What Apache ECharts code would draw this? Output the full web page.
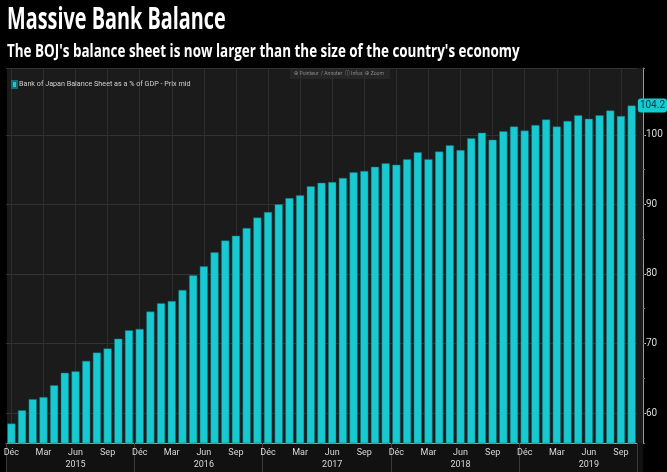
<!DOCTYPE html>
<html><head><meta charset="utf-8">
<script src="https://cdn.jsdelivr.net/npm/echarts@6/dist/echarts.min.js"></script>
<style>html,body{margin:0;padding:0;background:#000;}#c{width:667px;height:472px;}</style>
</head><body><div id="c"></div>
<script>
const titleText = 'Massive Bank Balance';
const subtitleText = "The BOJ's balance sheet is now larger than the size of the country's economy";
const seriesName = 'Bank of Japan Balance Sheet as a % of GDP - Prix mid';
const toolbarText = '\u2295 Pointeur  \u2215 Annoter  \u24D8 Infos  \u2295 Zoom';
const categories = [
  '2014-12',
  '2015-01','2015-02','2015-03','2015-04','2015-05','2015-06','2015-07','2015-08','2015-09','2015-10','2015-11','2015-12',
  '2016-01','2016-02','2016-03','2016-04','2016-05','2016-06','2016-07','2016-08','2016-09','2016-10','2016-11','2016-12',
  '2017-01','2017-02','2017-03','2017-04','2017-05','2017-06','2017-07','2017-08','2017-09','2017-10','2017-11','2017-12',
  '2018-01','2018-02','2018-03','2018-04','2018-05','2018-06','2018-07','2018-08','2018-09','2018-10','2018-11','2018-12',
  '2019-01','2019-02','2019-03','2019-04','2019-05','2019-06','2019-07','2019-08','2019-09','2019-10'
];
const values = [
  58.5,
  60.4, 62.0, 62.3, 64.0, 65.8, 66.0, 67.5, 68.7, 69.3, 70.7, 71.9, 72.1,
  74.6, 75.8, 76.1, 77.7, 79.8, 81.1, 83.1, 84.8, 85.5, 86.6, 88.1, 88.9,
  90.0, 90.9, 91.3, 92.6, 93.1, 93.2, 93.8, 94.6, 94.8, 95.4, 95.9, 95.7,
  96.5, 97.5, 96.5, 97.6, 98.5, 97.8, 99.5, 100.3, 99.3, 100.5, 101.2, 100.6,
  101.4, 102.2, 101.2, 102.0, 102.8, 102.3, 102.8, 103.5, 102.7, 104.2
];
const monthNames = {'01':'Jan','02':'Fév','03':'Mar','04':'Avr','05':'Mai','06':'Jun','07':'Jul','08':'Aoû','09':'Sep','10':'Oct','11':'Nov','12':'Déc'};
const shownMonths = ['Déc','Mar','Jun','Sep'];
const yMin = 55.7, yMax = 109.6;

const NARROW = "Roboto,'Open Sans',sans-serif";
const monthOf = c => monthNames[c.slice(5)];
const yearOf = c => c.slice(0,4);
const lastValue = values[values.length - 1];

const chart = echarts.init(document.getElementById('c'));
chart.setOption({
  backgroundColor: '#000',
  animation: false,
  graphic: [
    {type:'rect', z:-10, shape:{x:7, y:68, width:636, height:375}, style:{fill:'#1b1b1b'}},
    {type:'rect', z:-10, shape:{x:7, y:443, width:636, height:29}, style:{fill:'#111111'}},
    {type:'rect', z:-5, shape:{x:290, y:69, width:100, height:10}, style:{fill:'#262626'}},
    {type:'text', z:10, x:294, y:70, scaleX:0.85, style:{text: toolbarText, fill:'#8a8a8a', fontSize:6, fontFamily: NARROW}},
    {type:'text', x:7, y:5, scaleX:0.64, style:{text: titleText, fill:'#fff', fontSize:31, fontWeight:'bold', fontFamily: "'Open Sans',sans-serif"}},
    {type:'text', x:7, y:44, scaleX:0.79, style:{text: subtitleText, fill:'#fff', fontSize:17, fontWeight:'bold', fontFamily: "'Open Sans',sans-serif"}}
  ],
  legend: {
    left: 11, top: 80, padding: 0, icon: 'rect', itemWidth: 5, itemHeight: 7, itemGap: 5,
    textStyle: {color:'#cfcfcf', fontSize: 7.2, fontFamily: NARROW, padding:[0,0,0,-3]},
    data: [seriesName]
  },
  grid: {left: 6, right: 30, top: 68, bottom: 29},
  xAxis: [
    {
      type: 'category', data: categories, position: 'bottom',
      axisLine: {show: true, lineStyle: {color: '#9a9a9a', width: 1}},
      axisTick: {show: false},
      axisLabel: {
        interval: (i, v) => shownMonths.includes(monthOf(v)),
        formatter: v => monthOf(v), color: '#d8d8d8', fontSize: 9, fontFamily: NARROW, margin: 5
      },
      splitLine: {show: false}
    },
    {
      type: 'category', data: categories, position: 'bottom',
      axisLine: {show: false},
      axisTick: {show: true, interval: (i, v) => monthOf(v) === 'Déc', length: 29, lineStyle: {color: '#3a3a3a'}},
      axisLabel: {
        interval: (i, v) => monthOf(v) === 'Jun',
        formatter: v => yearOf(v), color: '#d8d8d8', fontSize: 9, fontFamily: NARROW, margin: 17
      },
      splitLine: {show: false}
    }
  ],
  yAxis: [
    {
      type: 'value', position: 'right', offset: 6, min: yMin, max: yMax, splitNumber: 5,
      axisLine: {show: true, lineStyle: {color: '#9a9a9a'}},
      axisTick: {show: true, length: 3, lineStyle: {color: '#cfcfcf'}},
      axisLabel: {showMinLabel: false, showMaxLabel: false, color: '#d8d8d8', fontSize: 10, fontFamily: NARROW, margin: 3},
      splitLine: {show: true, lineStyle: {color: '#333333', width: 1}},
      axisPointer: {
        show: true, value: lastValue, status: 'show', triggerTooltip: false,
        lineStyle: {opacity: 0},
        label: {show: true, formatter: p => p.value.toFixed(1), backgroundColor: '#19c9d1', color: '#0b3a40',
                fontSize: 10, fontFamily: NARROW, padding: [2, 2], borderRadius: 3, margin: 2}
      }
    },
    {
      type: 'value', position: 'right', offset: 6, min: yMin, max: yMax, splitNumber: 10,
      axisLine: {show: false},
      axisTick: {show: true, length: 2, lineStyle: {color: '#777'}},
      axisLabel: {show: false},
      splitLine: {show: false}
    }
  ],
  series: [
    {
      name: seriesName, type: 'bar', data: values, xAxisIndex: 0, yAxisIndex: 0,
      barCategoryGap: '24%',
      itemStyle: {color: '#19c9d1', borderColor: '#0f6f75', borderWidth: 0.5},
      markLine: {
        silent: true, symbol: 'none', z: 1, label: {show: false},
        lineStyle: {color: '#2e2e2e', type: 'solid', width: 1},
        data: categories.filter(c => shownMonths.includes(monthOf(c))).map(c => ({xAxis: c}))
      }
    }
  ]
});
</script>
</body></html>
